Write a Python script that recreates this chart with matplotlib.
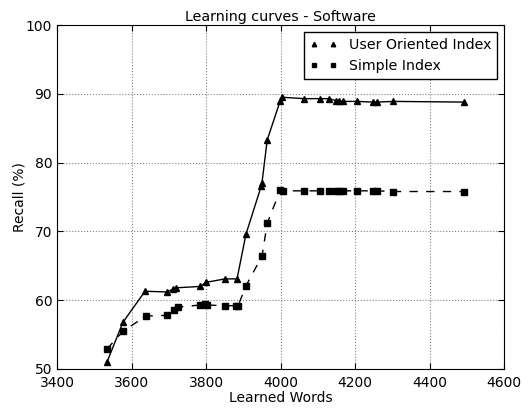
import matplotlib
matplotlib.use("Agg")
import matplotlib.pyplot as plt

# Learned words vs. recall for both index types
words = [3534, 3577, 3636, 3695, 3711, 3719, 3784, 3800, 3851, 3883, 3907,
         3948, 3950, 3964, 3999, 4004, 4063, 4106, 4130, 4149, 4157, 4168,
         4205, 4248, 4259, 4302, 4493]
recall_user = [51.0, 56.8, 61.3, 61.2, 61.6, 61.8, 62.0, 62.6, 63.1, 63.1, 69.6,
               76.6, 77.1, 83.3, 89.0, 89.5, 89.3, 89.3, 89.3, 89.0, 88.9, 88.9,
               88.9, 88.8, 88.8, 88.9, 88.8]

words_simple = [3534, 3577, 3639, 3695, 3714, 3725, 3784, 3797, 3803, 3851, 3880,
                3886, 3907, 3950, 3964, 3999, 4007, 4063, 4106, 4130, 4149, 4157,
                4168, 4205, 4248, 4259, 4302, 4493]
recall_simple = [52.9, 55.5, 57.7, 57.8, 58.6, 59.0, 59.3, 59.4, 59.3, 59.2, 59.2,
                 59.2, 62.1, 66.4, 71.2, 76.0, 75.9, 75.9, 75.9, 75.9, 75.9, 75.9,
                 75.9, 75.9, 75.9, 75.9, 75.8, 75.8]

fig = plt.figure(figsize=(5.28, 4.08), dpi=100)
ax = fig.add_axes([0.108, 0.0956, 0.847, 0.843])

ax.plot(words, recall_user, color="black", linewidth=1)
ax.plot(words, recall_user, linestyle="none", marker="^", color="black",
        markersize=5, label="User Oriented Index")
ax.plot(words_simple, recall_simple, color="black", linewidth=1, dashes=(6, 6))
ax.plot(words_simple, recall_simple, linestyle="none", marker="s", color="black",
        markersize=5, label="Simple Index")

ax.set_xlim(3400, 4600)
ax.set_ylim(50, 100)
ax.set_xticks(range(3400, 4601, 200))
ax.set_yticks(range(50, 101, 10))
ax.tick_params(direction="in", top=True, right=True, labelsize=10, length=4)
ax.tick_params(axis="x", pad=5)
ax.grid(True, linestyle=":", color="gray", linewidth=0.8)

ax.set_title("Learning curves - Software", fontsize=10.3, pad=3)
ax.set_xlabel("Learned Words", fontsize=10)
ax.set_ylabel("Recall (%)", fontsize=10)
ax.xaxis.set_label_coords(0.5, -0.064)
ax.yaxis.set_label_coords(-0.069, 0.5)

leg = ax.legend(loc="upper right", numpoints=2, fontsize=10.2, fancybox=False,
                framealpha=1, borderaxespad=0.5, borderpad=0.4,
                labelspacing=0.5, handlelength=2.0, handletextpad=0.8,
                markerscale=0.65)
leg.get_frame().set_edgecolor("black")

fig.savefig("out.png", dpi=100)
